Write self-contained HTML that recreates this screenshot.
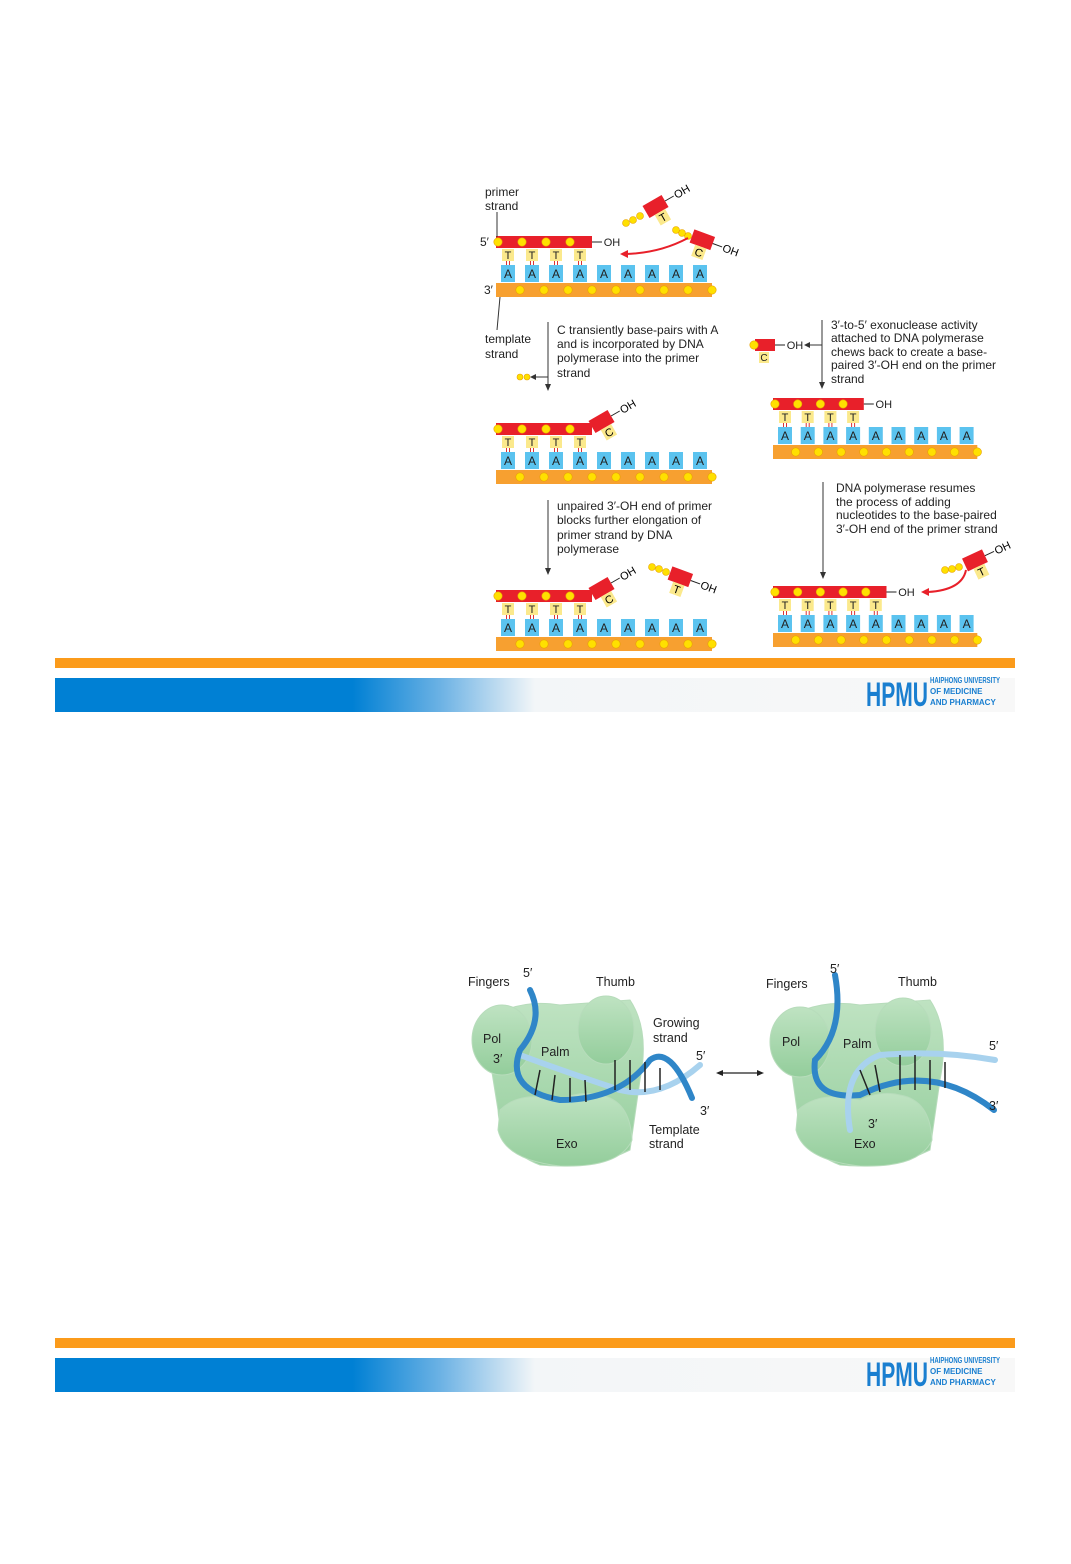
<!DOCTYPE html>
<html><head><meta charset="utf-8"><style>
html,body{margin:0;padding:0;background:#fff;}
svg{display:block;font-family:"Liberation Sans","DejaVu Sans",sans-serif;}
</style></head><body>
<svg id="s" width="1071" height="1564" viewBox="0 0 1071 1564" xmlns="http://www.w3.org/2000/svg">
<defs>
<linearGradient id="bg" x1="0" x2="1" y1="0" y2="0">
<stop offset="0" stop-color="#0080d4"/><stop offset="0.31" stop-color="#0080d4"/>
<stop offset="0.40" stop-color="#6ab1e4"/><stop offset="0.5" stop-color="#f3f6f8"/><stop offset="1" stop-color="#f8f8f8"/>
</linearGradient>
<linearGradient id="gr" x1="0" x2="0" y1="0" y2="1"><stop offset="0" stop-color="#bfe3c2"/><stop offset="1" stop-color="#93cd9b"/></linearGradient>
</defs>
<g id="g"></g>
<rect x="55" y="658" width="960" height="10" fill="#fb9b1b"/>
<rect x="55" y="678" width="960" height="34" fill="url(#bg)"/>
<rect x="55" y="1338" width="960" height="10" fill="#fb9b1b"/>
<rect x="55" y="1358" width="960" height="34" fill="url(#bg)"/>
<g font-family="Liberation Sans,sans-serif" font-weight="bold" fill="#1a7fd0">
<text x="866" y="706" font-size="34" textLength="62" lengthAdjust="spacingAndGlyphs">HPMU</text>
<text x="930" y="683" font-size="8" textLength="70" lengthAdjust="spacingAndGlyphs">HAIPHONG UNIVERSITY</text>
<text x="930" y="694" font-size="8">OF MEDICINE</text>
<text x="930" y="705" font-size="8">AND PHARMACY</text>
<text x="866" y="1386" font-size="34" textLength="62" lengthAdjust="spacingAndGlyphs">HPMU</text>
<text x="930" y="1363" font-size="8" textLength="70" lengthAdjust="spacingAndGlyphs">HAIPHONG UNIVERSITY</text>
<text x="930" y="1374" font-size="8">OF MEDICINE</text>
<text x="930" y="1385" font-size="8">AND PHARMACY</text>
</g>
<g font-size="12" fill="#222">
<text x="485" y="196">primer</text><text x="485" y="210">strand</text>
<text x="480" y="246">5′</text><text x="484" y="294">3′</text>
<text x="485" y="343">template</text><text x="485" y="358">strand</text>
<text x="557" y="334">C transiently base-pairs with A</text>
<text x="557" y="348">and is incorporated by DNA</text>
<text x="557" y="362">polymerase into the primer</text>
<text x="557" y="377">strand</text>
<text x="831" y="329">3′-to-5′ exonuclease activity</text>
<text x="831" y="342">attached to DNA polymerase</text>
<text x="831" y="356">chews back to create a base-</text>
<text x="831" y="369">paired 3′-OH end on the primer</text>
<text x="831" y="383">strand</text>
<text x="557" y="510">unpaired 3′-OH end of primer</text>
<text x="557" y="524">blocks further elongation of</text>
<text x="557" y="539">primer strand by DNA</text>
<text x="557" y="553">polymerase</text>
<text x="836" y="492">DNA polymerase resumes</text>
<text x="836" y="506">the process of adding</text>
<text x="836" y="519">nucleotides to the base-paired</text>
<text x="836" y="533">3′-OH end of the primer strand</text>
</g>
<g stroke="#333" stroke-width="1" fill="none">
<line x1="497" y1="212" x2="497" y2="237"/><line x1="500" y1="297" x2="497" y2="330"/>
<line x1="548" y1="322" x2="548" y2="386"/><line x1="548" y1="377" x2="536" y2="377"/>
<line x1="822" y1="320" x2="822" y2="384"/><line x1="822" y1="345" x2="810" y2="345"/>
<line x1="548" y1="500" x2="548" y2="570"/><line x1="823" y1="482" x2="823" y2="574"/>
</g>
<g fill="#333">
<polygon points="545,384 551,384 548,391"/><polygon points="819,382 825,382 822,389"/>
<polygon points="545,568 551,568 548,575"/><polygon points="820,572 826,572 823,579"/>
<polygon points="536,374 536,380 530,377"/><polygon points="810,342 810,348 804,345"/>
</g>
<path d="M688,238 Q660,253 626,254" stroke="#e8202a" stroke-width="2" fill="none"/>
<polygon points="628,250 628,258 620,254" fill="#e8202a"/>
<path d="M966,570 Q962,590 928,592" stroke="#e8202a" stroke-width="2" fill="none"/>
<polygon points="929,588 929,596 921,592" fill="#e8202a"/>
<g fill="url(#gr)" stroke="#b7dcbb" stroke-width="1">
<path d="M505,1010 Q530,1000 560,1005 L630,1000 Q650,1030 640,1080 L630,1150 Q590,1170 540,1165 Q500,1150 498,1110 L490,1060 Z"/>
<ellipse cx="502" cy="1040" rx="30" ry="35"/>
<ellipse cx="606" cy="1030" rx="28" ry="34"/>
<path d="M500,1110 Q520,1090 560,1100 Q580,1090 600,1095 Q630,1100 632,1140 Q620,1168 560,1166 Q505,1160 498,1130 Z"/>
<path d="M803,1010 Q830,1000 860,1005 L930,1000 Q950,1030 940,1080 L930,1150 Q890,1170 840,1165 Q800,1150 797,1110 L790,1060 Z"/>
<ellipse cx="800" cy="1042" rx="30" ry="35"/>
<ellipse cx="903" cy="1032" rx="28" ry="34"/>
<path d="M798,1110 Q820,1090 860,1100 Q880,1090 900,1095 Q930,1100 932,1140 Q920,1168 860,1166 Q803,1160 796,1130 Z"/>
</g>
<g fill="none" stroke-linecap="round">
<path d="M520,1055 Q560,1070 620,1090 Q660,1100 700,1065" stroke="#a8d2ee" stroke-width="6"/>
<path d="M530,990 Q545,1020 520,1050 Q505,1090 560,1100 Q620,1100 650,1060 Q670,1045 692,1098" stroke="#2f86c8" stroke-width="6"/>
<path d="M835,975 Q845,1030 815,1060 Q810,1100 860,1095 Q930,1060 994,1110" stroke="#2f86c8" stroke-width="6"/>
<path d="M850,1130 Q840,1070 880,1055 Q940,1050 995,1060" stroke="#a8d2ee" stroke-width="6"/>
</g>
<g stroke="#222" stroke-width="1.5">
<line x1="540" y1="1070" x2="535" y2="1095"/><line x1="555" y1="1075" x2="552" y2="1100"/><line x1="570" y1="1078" x2="570" y2="1102"/>
<line x1="585" y1="1080" x2="586" y2="1102"/><line x1="615" y1="1060" x2="615" y2="1090"/><line x1="630" y1="1060" x2="630" y2="1090"/>
<line x1="645" y1="1062" x2="645" y2="1092"/><line x1="660" y1="1068" x2="660" y2="1090"/>
<line x1="900" y1="1055" x2="900" y2="1090"/><line x1="915" y1="1055" x2="915" y2="1090"/><line x1="930" y1="1060" x2="930" y2="1090"/>
<line x1="945" y1="1062" x2="945" y2="1088"/><line x1="860" y1="1070" x2="870" y2="1095"/><line x1="875" y1="1065" x2="880" y2="1092"/>
</g>
<line x1="718" y1="1073" x2="762" y2="1073" stroke="#222" stroke-width="1.2"/>
<polygon points="716,1073 723,1070 723,1076" fill="#222"/><polygon points="764,1073 757,1070 757,1076" fill="#222"/>
<g font-size="12.5" fill="#222">
<text x="468" y="986">Fingers</text><text x="523" y="977">5′</text><text x="596" y="986">Thumb</text>
<text x="653" y="1027">Growing</text><text x="653" y="1042">strand</text><text x="483" y="1043">Pol</text>
<text x="541" y="1056">Palm</text><text x="493" y="1063">3′</text><text x="696" y="1060">5′</text><text x="700" y="1115">3′</text>
<text x="649" y="1134">Template</text><text x="649" y="1148">strand</text><text x="556" y="1148">Exo</text>
<text x="766" y="988">Fingers</text><text x="830" y="973">5′</text><text x="898" y="986">Thumb</text>
<text x="782" y="1046">Pol</text><text x="843" y="1048">Palm</text><text x="989" y="1050">5′</text><text x="989" y="1110">3′</text>
<text x="868" y="1128">3′</text><text x="854" y="1148">Exo</text>
</g>
</svg>
<script>
var g=document.getElementById('g'),h='';
function R(x,y,w,hh,f){h+='<rect x="'+x+'" y="'+y+'" width="'+w+'" height="'+hh+'" fill="'+f+'"/>';}
function C(x,y,r,f){h+='<circle cx="'+x+'" cy="'+y+'" r="'+(r||4)+'" fill="'+(f||'#ffe000')+'" stroke="#e8a000" stroke-width="0.6"/>';}
function T(x,y,t,s){h+='<text x="'+x+'" y="'+y+'" font-size="'+(s||12)+'" text-anchor="middle" fill="#222">'+t+'</text>';}
function dup(x0,y0,sp,nT,oh){
 var w=sp*nT;
 if(nT){R(x0,y0,w,12,'#e8202a');
 for(var i=0;i<nT;i++){C(x0+2+i*sp,y0+6,4.2);
  var cx=x0+12+i*sp; R(cx-6,y0+13,12,12,'#fbe98c');T(cx,y0+23,'T',11);
  h+='<line x1="'+(cx-1.5)+'" y1="'+(y0+25)+'" x2="'+(cx-1.5)+'" y2="'+(y0+29)+'" stroke="#d33" stroke-width="1"/><line x1="'+(cx+1.5)+'" y1="'+(y0+25)+'" x2="'+(cx+1.5)+'" y2="'+(y0+29)+'" stroke="#d33" stroke-width="1"/>';}
 if(oh){h+='<line x1="'+(x0+w)+'" y1="'+(y0+6)+'" x2="'+(x0+w+10)+'" y2="'+(y0+6)+'" stroke="#222"/>';T(x0+w+20,y0+10,'OH',11);}}
 for(var j=0;j<9;j++){var ax=x0+12+j*sp;R(ax-7,y0+29,14,17,'#5bc3ef');T(ax,y0+42,'A',12);}
 R(x0,y0+47,sp*9,14,'#f7a030');
 for(var k=1;k<=9;k++)C(x0+k*sp,y0+54,4.2);
}
dup(496,236,24,4,true);
dup(496,423,24,4,false);
dup(496,590,24,4,false);
dup(773,398,22.7,4,true);
dup(773,586,22.7,5,true);
function nuc(x,y,rot,b){h+='<g transform="translate('+x+','+y+') rotate('+rot+')"><rect x="0" y="-7" width="22" height="14" fill="#e8202a"/><rect x="6" y="7" width="12" height="12" fill="#fbe98c"/><text x="12" y="17" font-size="11" text-anchor="middle">'+b+'</text><line x1="22" y1="0" x2="32" y2="0" stroke="#222"/><text x="33" y="4" font-size="11">OH</text></g>';}
nuc(646,212,-30,'T');C(640,216,3.5);C(633,220,3.5);C(626,223,3.5);
nuc(692,236,20,'C');C(688,236,3.5);C(682,233,3.5);C(676,230,3.5);
nuc(592,427,-30,'C');
nuc(592,594,-30,'C');
nuc(670,573,20,'T');C(666,572,3.5);C(659,569,3.5);C(652,567,3.5);
nuc(965,565,-25,'T');C(959,567,3.5);C(952,569,3.5);C(945,570,3.5);
R(755,339,20,12,'#e8202a');C(754,345,4.2);R(759,352,10,11,'#fbe98c');T(764,361,'C',10);
h+='<line x1="775" y1="345" x2="785" y2="345" stroke="#222"/>';T(795,349,'OH',11);
C(520,377,3);C(527,377,3);
g.innerHTML=h;
</script>
</body></html>
